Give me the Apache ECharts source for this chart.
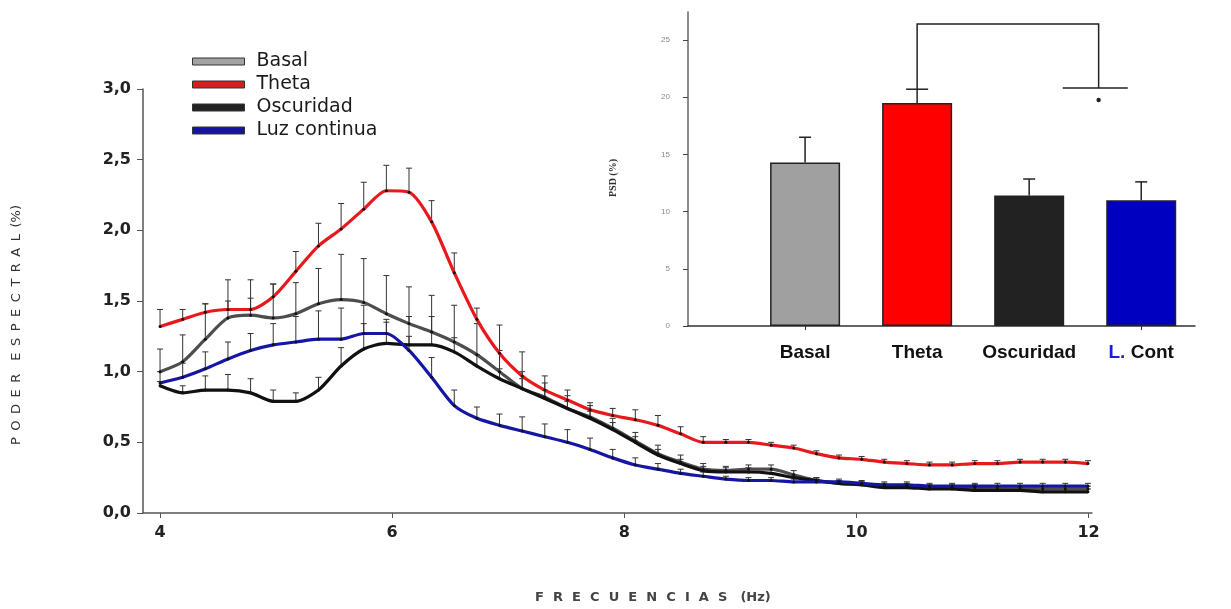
<!DOCTYPE html>
<html>
<head>
<meta charset="utf-8">
<script src="https://cdn.jsdelivr.net/npm/echarts@6/dist/echarts.min.js"></script>
<style>
  html, body { margin: 0; padding: 0; background: #fff; }
  #chart { width: 1231px; height: 609px; }
</style>
</head>
<body>
<div id="chart"></div>
<script>
// spectral points (Hz)
var freqs = [4.000, 4.195, 4.390, 4.585, 4.780, 4.975, 5.170, 5.365, 5.560, 5.755,
  5.950, 6.145, 6.340, 6.535, 6.730, 6.925, 7.120, 7.315, 7.510, 7.705,
  7.900, 8.095, 8.290, 8.485, 8.680, 8.875, 9.070, 9.265, 9.460, 9.655,
  9.850, 10.045, 10.240, 10.435, 10.630, 10.825, 11.020, 11.215, 11.410, 11.605,
  11.800, 11.995]

var basal = [1.00, 1.07, 1.23, 1.38, 1.40, 1.38, 1.41, 1.48, 1.51, 1.49,
  1.41, 1.34, 1.28, 1.21, 1.12, 1.00, 0.88, 0.82, 0.74, 0.68,
  0.60, 0.51, 0.42, 0.36, 0.31, 0.30, 0.31, 0.31, 0.27, 0.23,
  0.21, 0.20, 0.19, 0.19, 0.18, 0.18, 0.18, 0.17, 0.17, 0.17,
  0.17, 0.17]
var basalErr = [0.16, 0.19, 0.25, 0.27, 0.25, 0.24, 0.22, 0.25, 0.32, 0.31,
  0.27, 0.26, 0.26, 0.26, 0.22, 0.15, 0.12, 0.10, 0.09, 0.08,
  0.07, 0.06, 0.06, 0.05, 0.04, 0.03, 0.03, 0.03, 0.03, 0.02,
  0.02, 0.02, 0.02, 0.02, 0.02, 0.02, 0.02, 0.02, 0.02, 0.02,
  0.02, 0.02]

var theta = [1.32, 1.37, 1.42, 1.44, 1.44, 1.53, 1.71, 1.89, 2.01, 2.15,
  2.28, 2.27, 2.06, 1.70, 1.37, 1.13, 0.97, 0.87, 0.80, 0.73,
  0.69, 0.66, 0.62, 0.56, 0.50, 0.50, 0.50, 0.48, 0.46, 0.42,
  0.39, 0.38, 0.36, 0.35, 0.34, 0.34, 0.35, 0.35, 0.36, 0.36,
  0.36, 0.35]
var thetaErr = [0.12, 0.07, 0.06, 0.06, 0.08, 0.09, 0.14, 0.16, 0.18, 0.19,
  0.18, 0.17, 0.15, 0.14, 0.08, 0.20, 0.17, 0.10, 0.07, 0.05,
  0.05, 0.07, 0.07, 0.05, 0.04, 0.02, 0.02, 0.02, 0.02, 0.02,
  0.02, 0.02, 0.02, 0.02, 0.02, 0.02, 0.02, 0.02, 0.02, 0.02,
  0.02, 0.02]

var oscuridad = [0.90, 0.85, 0.87, 0.87, 0.85, 0.79, 0.79, 0.87, 1.04, 1.16,
  1.20, 1.19, 1.19, 1.14, 1.04, 0.95, 0.88, 0.81, 0.74, 0.67,
  0.59, 0.50, 0.41, 0.35, 0.30, 0.29, 0.29, 0.28, 0.25, 0.23,
  0.21, 0.20, 0.18, 0.18, 0.17, 0.17, 0.16, 0.16, 0.16, 0.15,
  0.15, 0.15]
var oscuridadErr = [0.03, 0.05, 0.10, 0.11, 0.10, 0.08, 0.06, 0.09, 0.13, 0.18,
  0.15, 0.20, 0.20, 0.10, 0.08, 0.07, 0.07, 0.06, 0.05, 0.05,
  0.05, 0.04, 0.04, 0.03, 0.03, 0.03, 0.03, 0.03, 0.02, 0.02,
  0.02, 0.02, 0.02, 0.02, 0.02, 0.02, 0.02, 0.02, 0.02, 0.02,
  0.02, 0.02]

var luz = [0.92, 0.96, 1.02, 1.09, 1.15, 1.19, 1.21, 1.23, 1.23, 1.27,
  1.27, 1.15, 0.96, 0.76, 0.67, 0.62, 0.58, 0.54, 0.50, 0.45,
  0.39, 0.34, 0.31, 0.28, 0.26, 0.24, 0.23, 0.23, 0.22, 0.22,
  0.22, 0.21, 0.20, 0.20, 0.19, 0.19, 0.19, 0.19, 0.19, 0.19,
  0.19, 0.19]
var luzErr = [0.08, 0.10, 0.12, 0.12, 0.12, 0.15, 0.18, 0.20, 0.22, 0.20,
  0.10, 0.10, 0.14, 0.11, 0.08, 0.08, 0.10, 0.09, 0.09, 0.08,
  0.06, 0.05, 0.04, 0.03, 0.03, 0.02, 0.02, 0.02, 0.02, 0.02,
  0.02, 0.02, 0.02, 0.02, 0.02, 0.02, 0.02, 0.02, 0.02, 0.02,
  0.02, 0.02]

var freqTicks = [4, 6, 8, 10, 12]

// inset: mean PSD (%) per condition
var groups = ['Basal', 'Theta', 'Oscuridad', 'L. Cont']
var psd = [14.3, 19.5, 11.4, 11.0]
var psdErr = [2.2, 1.2, 1.45, 1.6]
var psdTicks = [0, 5, 10, 15, 20, 25]

var lineColors = ['#4d4d4d', '#e8191c', '#111111', '#1616a6']
var swatchColors = ['#a3a3a3', '#d91c1c', '#222222', '#1414a0']
var barColors = ['#a0a0a0', '#ff0000', '#222222', '#0000c0']

function pairs (xs, ys) {
  return xs.map(function (x, i) { return [x, ys[i]] })
}
function triples (xs, ys, es) {
  return xs.map(function (x, i) { return [x, ys[i], es[i]] })
}

function errRender (capHalf, color, width) {
  return function (params, api) {
    var x = api.value(0)
    var y = api.value(1)
    var e = api.value(2)
    var p0 = api.coord([x, y])
    var p1 = api.coord([x, y + e])
    var st = { stroke: color, lineWidth: width }
    return {
      type: 'group',
      children: [
        { type: 'line', shape: { x1: p0[0], y1: p0[1], x2: p1[0], y2: p1[1] }, style: st },
        { type: 'line', shape: { x1: p1[0] - capHalf, y1: p1[1], x2: p1[0] + capHalf, y2: p1[1] }, style: st }
      ]
    }
  }
}

var names = ['Basal', 'Theta', 'Oscuridad', 'Luz continua']
var means = [basal, theta, oscuridad, luz]
var errs = [basalErr, thetaErr, oscuridadErr, luzErr]

var series = []
names.forEach(function (n, k) {
  series.push({
    name: n,
    type: 'line',
    xAxisIndex: 0,
    yAxisIndex: 0,
    data: pairs(freqs, means[k]),
    smooth: 0.25,
    symbol: 'circle',
    symbolSize: 3,
    itemStyle: { color: '#111' },
    lineStyle: { color: lineColors[k], width: 3.2 },
    z: 3
  })
  series.push({
    type: 'custom',
    xAxisIndex: 0,
    yAxisIndex: 0,
    data: triples(freqs, means[k], errs[k]),
    encode: { x: 0, y: 1 },
    renderItem: errRender(3, '#333', 1),
    z: 2
  })
})

// inset bars
series.push({
  type: 'bar',
  xAxisIndex: 1,
  yAxisIndex: 1,
  barWidth: 70,
  data: psd.map(function (v, i) {
    return { value: [i, v], itemStyle: { color: barColors[i], borderColor: '#222', borderWidth: 1.5 } }
  }),
  z: 2
})
series.push({
  type: 'custom',
  xAxisIndex: 1,
  yAxisIndex: 1,
  data: psd.map(function (v, i) { return [i, v, psdErr[i]] }),
  encode: { x: 0, y: 1 },
  renderItem: function (params, api) {
    var half = params.dataIndex === 1 ? 11 : 6
    return errRender(half, '#222', 1.5)(params, api)
  },
  z: 3
})

// significance bracket Theta vs. the light/dark groups
var brFrom = 1
var brTo = 2.62
var brTop = 26.4
var brFromLow = 20.7
var brToLow = 20.8
var brSpan = [2.30, 2.88]
series.push({
  type: 'custom',
  xAxisIndex: 1,
  yAxisIndex: 1,
  data: [[brFrom, brTop]],
  encode: { x: 0, y: 1 },
  renderItem: function (params, api) {
    var a = api.coord([brFrom, brFromLow])
    var b = api.coord([brFrom, brTop])
    var c = api.coord([brTo, brTop])
    var d = api.coord([brTo, brToLow])
    var s0 = api.coord([brSpan[0], brToLow])
    var s1 = api.coord([brSpan[1], brToLow])
    var st = { stroke: '#222', lineWidth: 1.5, fill: null }
    return {
      type: 'group',
      children: [
        { type: 'polyline', shape: { points: [a, b, c, d] }, style: st },
        { type: 'line', shape: { x1: s0[0], y1: s0[1], x2: s1[0], y2: s1[1] }, style: st },
        { type: 'circle', shape: { cx: d[0], cy: d[1] + 12, r: 2.2 }, style: { fill: '#222' } }
      ]
    }
  },
  z: 4
})

var chart = echarts.init(document.getElementById('chart'))
chart.setOption({
  backgroundColor: '#fff',
  animation: false,
  legend: {
    orient: 'vertical',
    left: 187,
    top: 47,
    icon: 'rect',
    itemWidth: 52,
    itemHeight: 7,
    itemGap: 4,
    data: names.map(function (n, k) {
      return { name: n, itemStyle: { color: swatchColors[k], borderColor: '#333', borderWidth: 1 } }
    }),
    textStyle: { fontFamily: 'DejaVu Sans', fontSize: 19, color: '#1a1a1a', padding: [0, 0, 0, 7] }
  },
  grid: [
    { left: 143, right: 139, top: 89, bottom: 96 },
    { left: 688, right: 36, top: 12, bottom: 283 }
  ],
  xAxis: [
    {
      type: 'value',
      gridIndex: 0,
      min: 3.853,
      max: 12.03,
      splitLine: { show: false },
      axisLine: { lineStyle: { color: '#555', width: 1.5 } },
      axisTick: { customValues: freqTicks, length: 5, lineStyle: { color: '#555' } },
      axisLabel: {
        customValues: freqTicks,
        margin: 12,
        fontFamily: 'DejaVu Sans',
        fontWeight: 'bold',
        fontSize: 16,
        color: '#222'
      }
    },
    {
      type: 'value',
      gridIndex: 1,
      min: -1.045,
      max: 3.48,
      splitLine: { show: false },
      axisLine: { onZero: false, lineStyle: { color: '#333', width: 1.5 } },
      axisTick: { customValues: [0, 3], length: 4, lineStyle: { color: '#333' } },
      axisLabel: {
        customValues: [0, 1, 2, 3],
        margin: 17,
        fontFamily: 'Liberation Sans',
        fontWeight: 'bold',
        fontSize: 19,
        color: '#111',
        formatter: function (v) {
          var g = groups[Math.round(v)]
          return g === 'L. Cont' ? '{b|L.} Cont' : g
        },
        rich: { b: { color: '#1a1ae0', fontFamily: 'Liberation Sans', fontWeight: 'bold', fontSize: 19 } }
      }
    }
  ],
  yAxis: [
    {
      type: 'value',
      gridIndex: 0,
      min: 0,
      max: 3,
      interval: 0.5,
      splitLine: { show: false },
      axisLine: { show: true, lineStyle: { color: '#555', width: 1.5 } },
      axisTick: { show: true, length: 6, lineStyle: { color: '#555' } },
      axisLabel: {
        margin: 12,
        fontFamily: 'DejaVu Sans',
        fontWeight: 'bold',
        fontSize: 16,
        color: '#222',
        formatter: function (v) { return v.toFixed(1).replace('.', ',') }
      }
    },
    {
      type: 'value',
      gridIndex: 1,
      min: 0,
      max: 27.45,
      splitLine: { show: false },
      axisLine: { show: true, onZero: false, lineStyle: { color: '#666', width: 1.5 } },
      axisTick: { show: true, customValues: psdTicks, length: 5, lineStyle: { color: '#444' } },
      axisLabel: { customValues: psdTicks, margin: 18, fontSize: 8, color: '#888', fontFamily: 'Liberation Sans' },
      name: 'PSD (%)',
      nameLocation: 'middle',
      nameGap: 70,
      nameTextStyle: { fontFamily: 'Liberation Serif', fontWeight: 'bold', fontSize: 10, color: '#333', padding: [0, 18, 0, 0] }
    }
  ],
  graphic: [
    {
      type: 'text',
      left: 10,
      top: 205,
      rotation: Math.PI / 2,
      style: {
        text: 'P\u2002O\u2002D\u2002E\u2002R\u2002\u2002E\u2002S\u2002P\u2002E\u2002C\u2002T\u2002R\u2002A\u2002L\u2002(%)',
        fontFamily: 'DejaVu Sans',
        fontSize: 13,
        fill: '#333'
      }
    },
    {
      type: 'text',
      left: 535,
      top: 591,
      style: {
        text: 'F\u2002\u2009R\u2002\u2009E\u2002\u2009C\u2002\u2009U\u2002\u2009E\u2002\u2009N\u2002\u2009C\u2002\u2009I\u2002\u2009A\u2002\u2009S\u2002\u2002(Hz)',
        fontFamily: 'DejaVu Sans',
        fontWeight: 'bold',
        fontSize: 13,
        fill: '#444'
      }
    }
  ],
  series: series
})
</script>
</body>
</html>
